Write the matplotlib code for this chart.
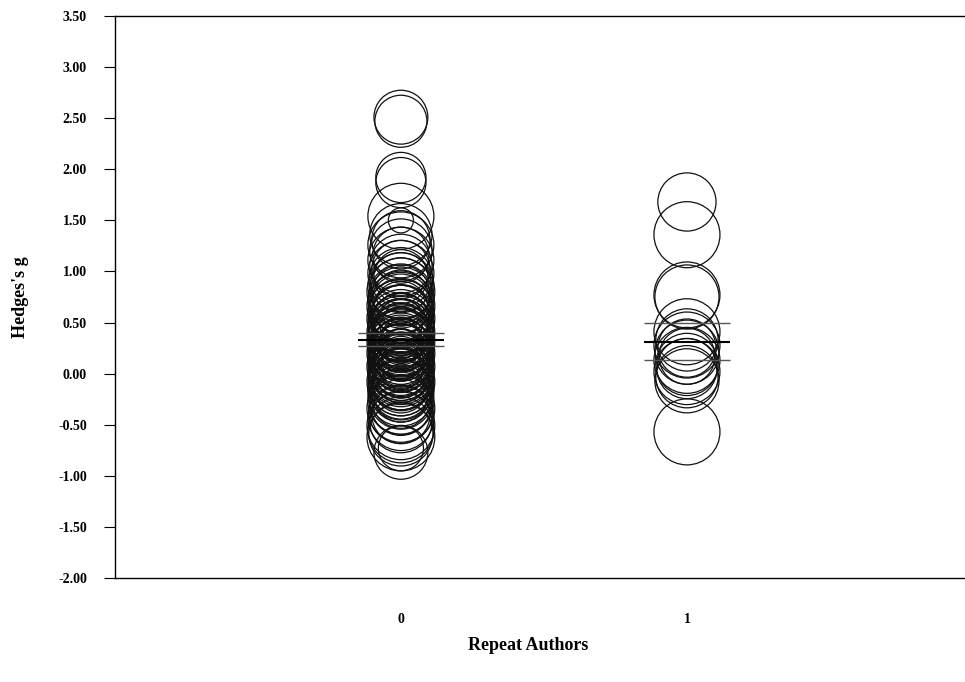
import numpy as np
import matplotlib.pyplot as plt

# Hedges's g per study, grouped by repeat authors (0 / 1), with study weights
g_0 = [2.51, 2.47, 1.92, 1.87, 1.54, 1.50, 1.36, 1.31, 1.26, 1.21, 1.16, 1.11,
       1.06, 1.02, 0.98, 0.95, 0.92, 0.89, 0.86, 0.83, 0.80, 0.78, 0.76, 0.74,
       0.72, 0.70, 0.68, 0.66, 0.64, 0.62, 0.60, 0.58, 0.56, 0.54, 0.52, 0.50,
       0.49, 0.47, 0.46, 0.44, 0.43, 0.41, 0.40, 0.38, 0.37, 0.35, 0.34, 0.32,
       0.31, 0.29, 0.28, 0.26, 0.25, 0.23, 0.22, 0.20, 0.19, 0.17, 0.16, 0.14,
       0.13, 0.11, 0.10, 0.08, 0.07, 0.05, 0.04, 0.02, 0.01, -0.01, -0.02, -0.04,
       -0.05, -0.07, -0.08, -0.10, -0.11, -0.13, -0.15, -0.17, -0.19, -0.21,
       -0.23, -0.25, -0.27, -0.29, -0.31, -0.34, -0.37, -0.40, -0.43, -0.47,
       -0.51, -0.55, -0.59, -0.62, -0.73, -0.77,
       0.36, 0.30, 0.24, 0.18, 0.12, 0.06, 0.00, 0.45, 0.52, 0.27, 0.33, 0.15]
w_0 = [6.0, 5.6, 5.2, 5.2, 9.0, 1.3, 8.0, 7.0, 9.0, 8.0, 6.5, 9.0,
       8.0, 7.0, 9.0, 6.0, 8.5, 7.5, 9.0, 8.0, 9.5, 7.0, 8.5, 6.5,
       9.0, 8.0, 7.5, 9.5, 6.0, 8.5, 9.0, 7.0, 8.0, 9.5, 6.5, 9.0,
       7.5, 8.5, 6.0, 9.0, 8.0, 7.0, 9.5, 6.5, 8.5, 9.0, 7.5, 8.0,
       9.5, 6.0, 8.5, 7.0, 9.0, 8.0, 6.5, 9.5, 7.5, 8.5, 9.0, 6.0,
       8.0, 9.0, 7.0, 8.5, 9.5, 6.5, 8.0, 9.0, 7.5, 8.5, 6.0, 9.0,
       8.0, 7.0, 9.5, 8.5, 6.5, 9.0, 7.5, 8.0, 9.0, 6.0, 8.5, 7.0,
       9.0, 8.0, 7.5, 9.5, 8.5, 7.0, 9.0, 8.0, 9.5, 9.0, 8.5, 9.5,
       4.2, 6.0,
       3.0, 4.0, 3.5, 4.5, 3.0, 4.0, 5.0, 3.5, 4.0, 2.5, 3.0, 4.0]

g_1 = [1.68, 1.36, 0.77, 0.75, 0.41, 0.33, 0.28, 0.25, 0.21, 0.17,
       0.13, 0.09, 0.05, 0.02, -0.03, -0.07, -0.57]
w_1 = [7.0, 9.0, 9.0, 8.5, 9.0, 8.0, 9.0, 7.0, 8.5, 6.5,
       9.0, 8.0, 7.5, 9.0, 8.0, 8.5, 9.0]

means = [0.33, 0.31]
ci_low = [0.27, 0.13]
ci_high = [0.40, 0.50]
groups = [0, 1]

plt.rcParams['font.family'] = ['Liberation Serif', 'DejaVu Serif']
plt.rcParams['font.weight'] = 'bold'

fig = plt.figure(figsize=(9.65, 6.82), dpi=100)
ax = fig.add_axes([0.119, 0.1525, 0.881, 0.824])


def bubble_size(w):
    # radius in pixels ~ 11*sqrt(w); scatter size in points^2 of diameter
    r_pt = 11 * np.sqrt(np.array(w)) * 72 / 100
    return (2 * r_pt) ** 2


ax.scatter(np.zeros(len(g_0)), g_0, s=bubble_size(w_0), facecolors='none',
           edgecolors='#111111', linewidths=0.9)
ax.scatter(np.ones(len(g_1)), g_1, s=bubble_size(w_1), facecolors='none',
           edgecolors='#111111', linewidths=0.9)

for x, m, lo, hi in zip(groups, means, ci_low, ci_high):
    ax.hlines([lo, hi], x - 0.15, x + 0.15, colors='#555555', linewidth=1.0)
    ax.hlines(m, x - 0.15, x + 0.15, colors='black', linewidth=1.5)

ax.set_xlim(-1, 1.972)
ax.set_ylim(-2.0, 3.5)
ax.set_yticks(np.arange(-2.0, 3.51, 0.5))
ax.set_yticklabels([f"{v:.2f}" for v in np.arange(-2.0, 3.51, 0.5)])
ax.set_xticks(groups)
ax.set_xticklabels(['0', '1'])

ax.spines['right'].set_visible(False)
for sp in ['left', 'bottom', 'top']:
    ax.spines[sp].set_linewidth(1.0)
ax.tick_params(axis='y', length=8, width=0.8, pad=12, labelsize=10)
ax.tick_params(axis='x', length=0, pad=25, labelsize=10)

ax.set_ylabel("Hedges's g", fontsize=13, fontweight='bold')
ax.set_xlabel("Repeat Authors", fontsize=13, fontweight='bold')
ax.yaxis.set_label_coords(-0.101, 0.5)
ax.xaxis.set_label_coords(0.486, -0.105)

fig.savefig('out.png', dpi=100)
